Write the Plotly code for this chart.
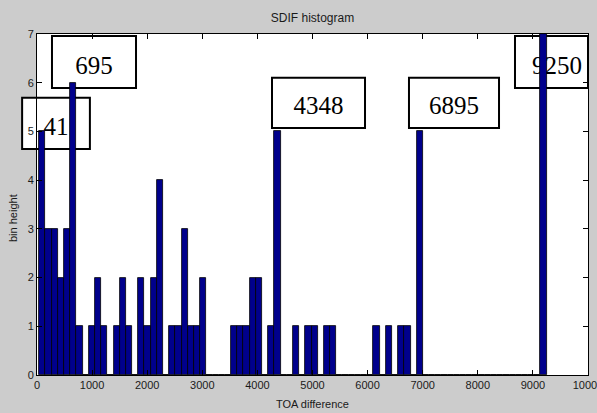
import plotly.graph_objects as go

# Histogram of SDIF (TOA difference) values: 82 equal-width bins over [41, 9250]
bin_lo = 41
bin_hi = 9250
counts = [5, 3, 3, 2, 3, 6, 1, 0, 1, 2, 1, 0, 1, 2, 1, 0, 2, 1, 2, 4,
          0, 1, 1, 3, 1, 1, 2, 0, 0, 0, 0, 1, 1, 1, 2, 2, 0, 1, 5, 0,
          0, 1, 0, 1, 1, 0, 1, 1, 0, 0, 0, 0, 0, 0, 1, 0, 1, 0, 1, 1,
          0, 5, 0, 0, 0, 0, 0, 0, 0, 0, 0, 0, 0, 0, 0, 0, 0, 0, 0, 0,
          0, 7]

# Peak labels and their boxes (x0, x1, y0, y1 in axis units)
peak_labels = ["41", "695", "4348", "6895", "9250"]
label_boxes = [(-270, 960, 4.64, 5.69),
               (272, 1797, 5.89, 6.96),
               (4265, 5953, 5.07, 6.10),
               (6751, 8385, 5.07, 6.10),
               (8675, 10000, 5.89, 6.96)]
label_positions = ["middle center", "middle center", "middle center",
                   "middle center", "middle right"]

x_ticks = list(range(0, 10001, 1000))
y_ticks = list(range(0, 8))
X_RANGE = (0, 10000)
Y_RANGE = (0, 7)

n_bins = len(counts)
width = (bin_hi - bin_lo) / n_bins
centers = [bin_lo + width * (i + 0.5) for i in range(n_bins)]

fig = go.Figure()
fig.add_trace(go.Bar(
    x=centers, y=counts, width=width,
    marker=dict(color="#00008c", line=dict(color="black", width=0.8)),
    showlegend=False,
))


def to_paper_x(v):
    return (v - X_RANGE[0]) / (X_RANGE[1] - X_RANGE[0])


def to_paper_y(v):
    return (v - Y_RANGE[0]) / (Y_RANGE[1] - Y_RANGE[0])


# Boxed labels sit beneath the bars
for text, (x0, x1, y0, y1), pos in zip(peak_labels, label_boxes, label_positions):
    fig.add_shape(
        type="rect", xref="paper", yref="paper", layer="below",
        x0=to_paper_x(x0), x1=to_paper_x(x1),
        y0=to_paper_y(y0), y1=to_paper_y(y1),
        line=dict(color="black", width=2), fillcolor="white",
        label=dict(text=text, textposition=pos, padding=3,
                   font=dict(family="Liberation Serif", size=25, color="black")),
    )

axis_font = dict(family="Liberation Sans, Arial", size=11, color="#1a1a1a")

fig.update_layout(
    width=597, height=413,
    margin=dict(l=37, r=9, t=34, b=38, autoexpand=False),
    paper_bgcolor="#cccccc",
    plot_bgcolor="white",
    bargap=0,
    title=dict(text="SDIF histogram", x=(37 + 588) / 2 / 597, xanchor="center",
               y=1 - 18 / 413, yanchor="middle",
               font=dict(family="Liberation Sans, Arial", size=12, color="#1a1a1a")),
    xaxis=dict(range=list(X_RANGE), tickvals=x_ticks, ticktext=[str(t) for t in x_ticks],
               ticks="inside", ticklen=5, tickcolor="black", showline=True,
               linecolor="black", linewidth=1, mirror="ticks", showgrid=False,
               zeroline=False, tickfont=axis_font, ticklabeloverflow="allow",
               automargin=False),
    yaxis=dict(range=list(Y_RANGE), tickvals=y_ticks, ticks="inside", ticklen=5,
               tickcolor="black", showline=True, linecolor="black", linewidth=1,
               mirror="ticks", showgrid=False, zeroline=False, tickfont=axis_font,
               automargin=False),
    annotations=[
        dict(text="TOA difference", xref="paper", yref="paper", x=0.5,
             y=-29 / 341, xanchor="center", yanchor="middle", showarrow=False,
             font=axis_font),
        dict(text="bin height", xref="paper", yref="paper", x=-24 / 551,
             y=(375 - 218) / 341, xanchor="center", yanchor="middle",
             textangle=-90, showarrow=False, font=axis_font),
    ],
)

fig.write_html("out.html")
